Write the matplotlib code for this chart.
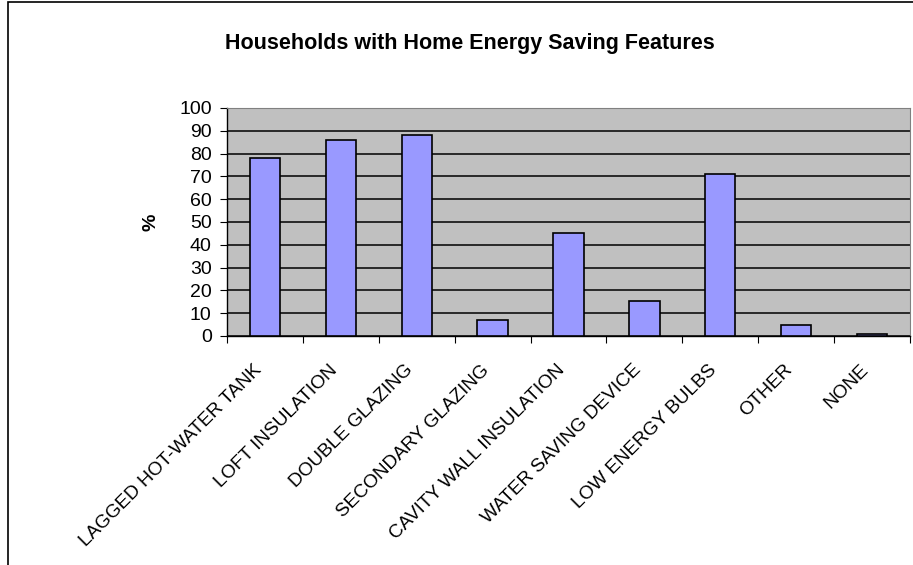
#!/usr/bin/env python3
"""Households with home energy saving features - bar chart."""

import numpy as np
import matplotlib
matplotlib.use("Agg")
import matplotlib.pyplot as plt
from matplotlib.patches import Rectangle

plt.rcParams['font.family'] = ['Liberation Sans', 'DejaVu Sans']

features = [
    'LAGGED HOT-WATER TANK', 'LOFT INSULATION', 'DOUBLE GLAZING',
    'SECONDARY GLAZING', 'CAVITY WALL INSULATION', 'WATER SAVING DEVICE',
    'LOW ENERGY BULBS', 'OTHER', 'NONE',
]
percent = [78, 86, 88, 7, 45, 15.5, 71, 5, 1]
y_ticks = list(range(0, 101, 10))

fig = plt.figure(figsize=(9.13, 5.65), dpi=100)

# chart frame: only the left and top edges are visible in the original
fig.patches.append(Rectangle((8 / 913, -0.1), 1.2, 1.1 - 2 / 565,
                             transform=fig.transFigure, fill=False,
                             edgecolor='black', linewidth=1.2))

ax = fig.add_axes([227 / 913, 1 - 336 / 565, (910 - 227) / 913, (336 - 108) / 565])
ax.set_facecolor('#C0C0C0')

x = np.arange(len(features))
ax.bar(x, percent, width=0.4, color='#9999FF', edgecolor='black', linewidth=1.2, zorder=3)

ax.set_xlim(-0.5, len(features) - 0.5)
ax.set_ylim(0, 100)
ax.set_yticks(y_ticks)
ax.yaxis.grid(True, color='black', linewidth=1.1, zorder=1)
ax.set_axisbelow(True)

# category ticks sit between bars
ax.set_xticks(np.arange(len(features) + 1) - 0.5)
ax.set_xticklabels([])
ax.set_xticks(x, minor=True)
ax.set_xticklabels(features, minor=True, rotation=45, ha='right', va='bottom',
                   rotation_mode='anchor', fontsize=13.7)
ax.tick_params(axis='x', which='minor', length=0, pad=27)
ax.tick_params(axis='x', which='major', length=5, direction='out', color='black')
ax.tick_params(axis='y', length=5, direction='out', labelsize=14, pad=6)

for side in ('top', 'right'):
    ax.spines[side].set_color('#808080')
for side in ('left', 'bottom'):
    ax.spines[side].set_color('black')
    ax.spines[side].set_linewidth(1.0)

ax.set_ylabel('%', fontsize=14, fontweight='bold', labelpad=14)
fig.text(0.515, 1 - 43 / 565, 'Households with Home Energy Saving Features',
         ha='center', va='center', fontsize=15.5, fontweight='bold')

fig.savefig('out.png', dpi=100)
